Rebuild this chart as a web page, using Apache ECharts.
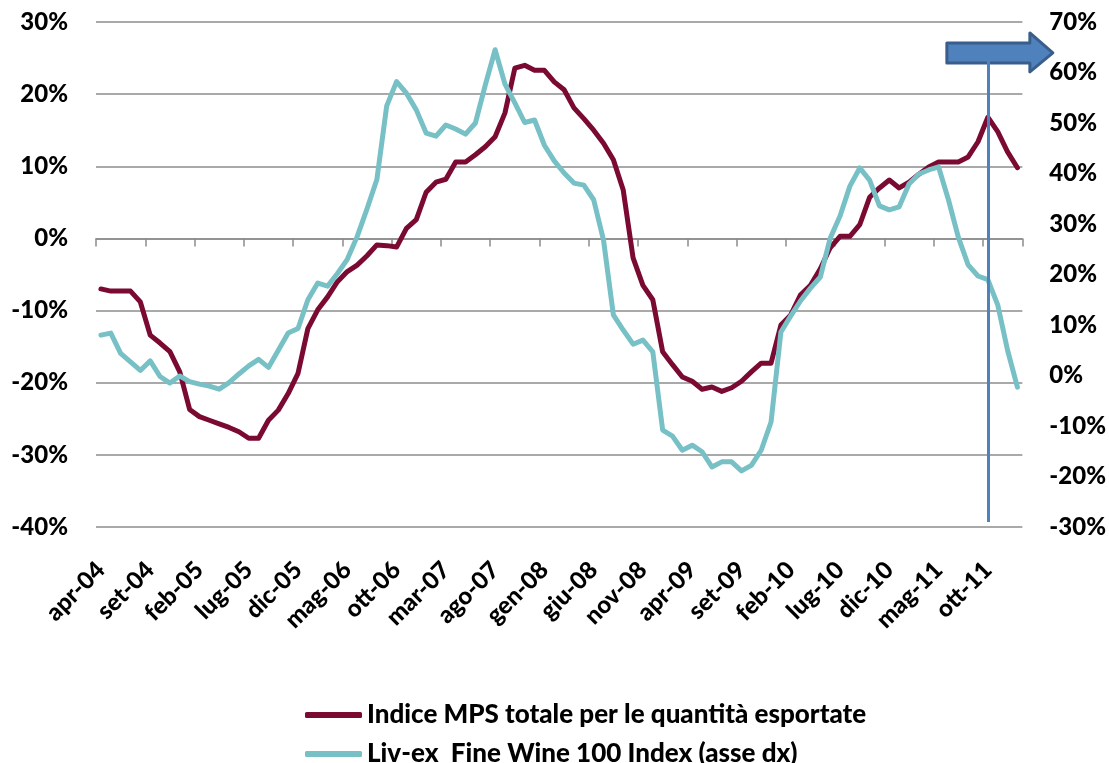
<!DOCTYPE html>
<html>
<head>
<meta charset="utf-8">
<script src="https://cdn.jsdelivr.net/npm/echarts@6/dist/echarts.min.js"></script>
<style>
  html, body { margin: 0; padding: 0; background: #fff; }
  #chart { width: 1109px; height: 763px; }
</style>
</head>
<body>
<div id="chart"></div>
<script>
// Monthly series, April 2004 – January 2012
const monthNames = ['gen', 'feb', 'mar', 'apr', 'mag', 'giu', 'lug', 'ago', 'set', 'ott', 'nov', 'dic'];
const startYear = 2004, startMonth = 3, monthCount = 94;
const categories = [];
for (let i = 0; i < monthCount; i++) {
  const m = (startMonth + i) % 12;
  const y = startYear + Math.floor((startMonth + i) / 12);
  categories.push(monthNames[m] + '-' + String(y).slice(2));
}

// Indice MPS totale per le quantità esportate (left axis, %)
const mpsIndex = [
  -7.0, -7.3, -7.3, -7.3, -8.8, -13.4, -14.5, -15.7, -18.5, -23.7,
  -24.7, -25.2, -25.7, -26.2, -26.8, -27.7, -27.7, -25.2, -23.8, -21.5,
  -18.7, -12.5, -9.9, -8.1, -6.0, -4.6, -3.7, -2.4, -0.9, -1.0,
  -1.2, 1.4, 2.6, 6.4, 7.8, 8.2, 10.6, 10.6, 11.6, 12.7,
  14.1, 17.4, 23.6, 24.0, 23.3, 23.3, 21.7, 20.6, 18.1, 16.6,
  15.0, 13.2, 10.9, 6.7, -2.7, -6.5, -8.5, -15.7, -17.5, -19.2,
  -19.8, -20.9, -20.6, -21.2, -20.7, -19.8, -18.5, -17.3, -17.3, -12.0,
  -10.6, -7.8, -6.5, -4.2, -1.3, 0.3, 0.3, 1.9, 5.7, 7.0,
  8.1, 7.0, 7.8, 8.9, 9.9, 10.6, 10.6, 10.6, 11.3, 13.4,
  16.8, 14.8, 12.0, 9.8
];

// Liv-ex Fine Wine 100 Index (right axis, %)
const livexIndex = [
  8.0, 8.4, 4.4, 2.7, 1.0, 2.9, -0.2, -1.5, -0.1, -1.2,
  -1.7, -2.1, -2.7, -1.4, 0.3, 1.9, 3.2, 1.6, 5.0, 8.4,
  9.3, 15.0, 18.3, 17.7, 20.2, 23.0, 27.5, 33.0, 38.8, 53.4,
  58.2, 55.9, 52.6, 48.0, 47.4, 49.6, 48.8, 47.8, 50.0, 57.5,
  64.5, 57.7, 54.0, 50.1, 50.6, 45.6, 42.5, 40.1, 38.1, 37.7,
  34.8, 26.8, 12.0, 9.0, 6.2, 7.0, 4.7, -10.8, -12.0, -14.8,
  -13.8, -15.1, -18.1, -17.1, -17.1, -18.9, -17.8, -14.8, -9.2, 8.6,
  11.8, 14.8, 17.3, 19.5, 27.2, 31.6, 37.5, 41.1, 38.7, 33.6,
  32.8, 33.4, 37.9, 39.9, 40.7, 41.3, 34.8, 27.4, 21.9, 19.7,
  19.0, 14.0, 5.0, -2.3
];

const seriesNames = ['Indice MPS totale per le quantità esportate', 'Liv-ex  Fine Wine 100 Index (asse dx)'];
const leftTicks = { min: -40, max: 30, step: 10 };
const rightTicks = { min: -30, max: 70, step: 10 };
const markerMonth = 'ott-11';
const markerRange = [62.5, -29.0];

const FONT = 'Lato, "Open Sans", sans-serif';
const WEIGHT = 900;
const GRID_COLOR = '#8c8c8c';
const MPS_COLOR = '#7a0a31';
const LIVEX_COLOR = '#77c0c6';
const MARK_COLOR = '#4f81bd';

const chart = echarts.init(document.getElementById('chart'), null, { renderer: 'canvas' });

const option = {
  animation: false,
  backgroundColor: '#fff',
  grid: { left: 96, right: 86, top: 22, bottom: 236, containLabel: false },
  legend: {
    orient: 'vertical',
    left: 300,
    top: 696,
    height: 70,
    itemWidth: 57,
    itemHeight: 6,
    itemGap: 11,
    icon: 'roundRect',
    textStyle: { fontFamily: FONT, fontWeight: WEIGHT, fontSize: 26, lineHeight: 28, color: '#000' },
    data: seriesNames
  },
  xAxis: [
    {
      type: 'category',
      position: 'bottom',
      data: categories,
      boundaryGap: true,
      axisLine: { show: false, onZero: false },
      axisTick: { show: false },
      axisLabel: {
        interval: 4,
        rotate: 45,
        margin: 39,
        fontFamily: FONT,
        fontWeight: WEIGHT,
        fontSize: 24,
        color: '#000'
      },
      splitLine: { show: false }
    },
    {
      type: 'category',
      position: 'bottom',
      data: categories,
      boundaryGap: true,
      axisLine: { show: true, onZero: true, onZeroAxisIndex: 0, lineStyle: { color: GRID_COLOR, width: 1.5 } },
      axisTick: { show: true, interval: 4, length: 8, lineStyle: { color: GRID_COLOR, width: 1.5 } },
      axisLabel: { show: false },
      splitLine: { show: false }
    }
  ],
  yAxis: [
    {
      type: 'value',
      position: 'left',
      min: leftTicks.min,
      max: leftTicks.max,
      interval: leftTicks.step,
      axisLine: { show: false },
      axisTick: { show: false },
      axisLabel: {
        formatter: '{value}%',
        margin: 28,
        fontFamily: FONT,
        fontWeight: WEIGHT,
        fontSize: 24,
        color: '#000'
      },
      splitLine: { show: true, lineStyle: { color: GRID_COLOR, width: 1.5 } }
    },
    {
      type: 'value',
      position: 'right',
      min: rightTicks.min,
      max: rightTicks.max,
      interval: rightTicks.step,
      axisLine: { show: false },
      axisTick: { show: false },
      axisLabel: {
        formatter: '{value}%',
        margin: 27,
        fontFamily: FONT,
        fontWeight: WEIGHT,
        fontSize: 24,
        color: '#000'
      },
      splitLine: { show: false }
    }
  ],
  series: [
    {
      name: seriesNames[0],
      type: 'line',
      xAxisIndex: 0,
      yAxisIndex: 0,
      data: mpsIndex,
      showSymbol: false,
      symbol: 'none',
      itemStyle: { color: MPS_COLOR },
      lineStyle: { color: MPS_COLOR, width: 5, join: 'round', cap: 'round' }
    },
    {
      name: seriesNames[1],
      type: 'line',
      xAxisIndex: 0,
      yAxisIndex: 1,
      data: livexIndex,
      showSymbol: false,
      symbol: 'none',
      itemStyle: { color: LIVEX_COLOR },
      lineStyle: { color: LIVEX_COLOR, width: 5, join: 'round', cap: 'round' },
      markLine: {
        silent: true,
        symbol: ['none', 'none'],
        label: { show: false },
        lineStyle: { color: MARK_COLOR, width: 3, type: 'solid' },
        data: [[
          { coord: [markerMonth, markerRange[0]] },
          { coord: [markerMonth, markerRange[1]] }
        ]]
      }
    }
  ]
};

chart.setOption(option);

// Block arrow pointing to the right-hand axis, anchored on the marker line
const anchor = chart.convertToPixel({ xAxisIndex: 0, yAxisIndex: 1 }, [markerMonth, markerRange[0]]);
const ax = anchor[0], ay = anchor[1] - 7;
chart.setOption({
  graphic: [{
    type: 'polygon',
    z: 1,
    shape: {
      points: [
        [ax - 41, ay - 10], [ax + 42, ay - 10], [ax + 42, ay - 20], [ax + 65, ay],
        [ax + 42, ay + 19], [ax + 42, ay + 10], [ax - 41, ay + 10]
      ]
    },
    style: { fill: '#4f81bd', stroke: '#3a5e8c', lineWidth: 3, lineJoin: 'round' }
  }]
});
</script>
</body>
</html>
